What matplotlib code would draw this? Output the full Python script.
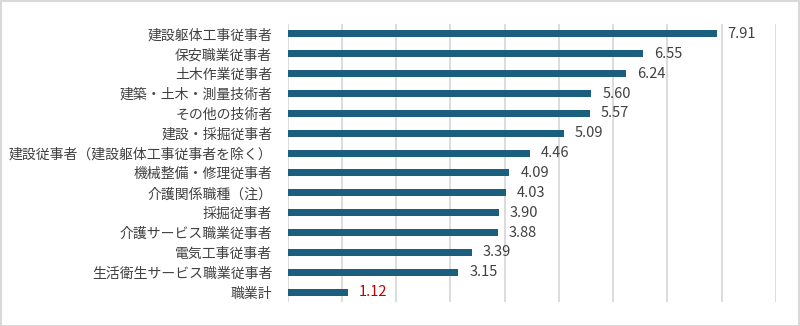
import matplotlib
matplotlib.use("Agg")
import matplotlib.pyplot as plt
from matplotlib.patches import Rectangle

plt.rcParams['font.family'] = ['Noto Sans CJK JP', 'DejaVu Sans']

categories = [
    "建設躯体工事従事者",
    "保安職業従事者",
    "土木作業従事者",
    "建築・土木・測量技術者",
    "その他の技術者",
    "建設・採掘従事者",
    "建設従事者（建設躯体工事従事者を除く）",
    "機械整備・修理従事者",
    "介護関係職種（注）",
    "採掘従事者",
    "介護サービス職業従事者",
    "電気工事従事者",
    "生活衛生サービス職業従事者",
    "職業計",
]
values = [7.91, 6.55, 6.24, 5.60, 5.57, 5.09, 4.46, 4.09, 4.03, 3.90, 3.88, 3.39, 3.15, 1.12]
value_labels = ["7.91", "6.55", "6.24", "5.60", "5.57", "5.09", "4.46", "4.09", "4.03", "3.90", "3.88", "3.39", "3.15", "1.12"]

W, H = 800, 326
fig = plt.figure(figsize=(W / 100, H / 100), dpi=100)
ax = fig.add_axes([287.5 / W, 1 - 302 / H, (776 - 287.5) / W, (302 - 24) / H])

ypos = list(range(len(categories)))
bar_color = "#1c5e7e"
ax.barh(ypos, values, height=0.35, color=bar_color, zorder=3)
ax.set_ylim(len(categories) - 0.5, -0.5)
ax.set_xlim(0, 9)
ax.set_xticks(range(0, 10))
ax.xaxis.grid(True, color="#d9d9d9", linewidth=1.3, zorder=0)
ax.tick_params(axis="x", length=0, labelbottom=False)
ax.tick_params(axis="y", length=0, pad=11)
ax.set_yticks(ypos)
ax.set_yticklabels(categories, fontsize=10, color="#404040")
for s in ax.spines.values():
    s.set_visible(False)

for i, (v, lab) in enumerate(zip(values, value_labels)):
    col = "#c00000" if i == len(values) - 1 else "#404040"
    ax.text(v + 0.2, i, lab, va="center", ha="left", fontsize=10.5, color=col, zorder=4)

fig.patches.append(Rectangle((0.5 / W, 0.5 / H), 1 - 1.5 / W, 1 - 1.5 / H,
                             transform=fig.transFigure, fill=False,
                             edgecolor="#d9d9d9", linewidth=1.5))

fig.savefig("out.png", dpi=100)
